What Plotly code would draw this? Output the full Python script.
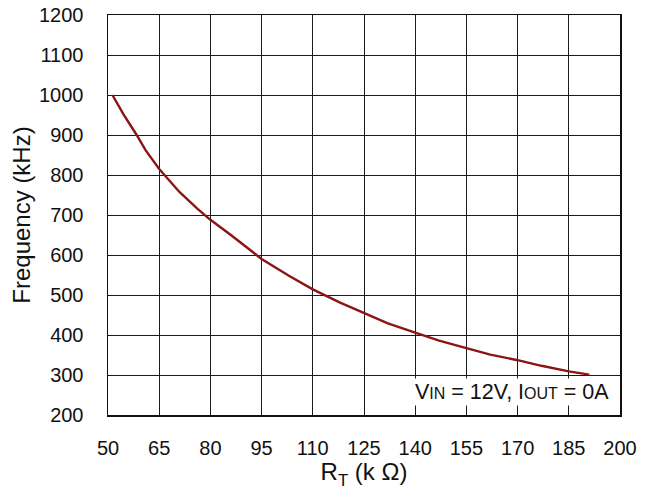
import plotly.graph_objects as go

rt_kohm = [51.3, 54.5, 58.4, 61, 65, 68, 71, 76, 80, 86, 92, 95, 103, 110, 118, 125, 132, 140, 147, 155, 162, 170, 177, 185, 191]
freq_khz = [1000, 952, 900, 862, 815, 785, 757, 717, 688, 650, 610, 590, 548, 514, 481, 455, 429, 406, 386, 367, 351, 337, 323, 309, 301]

x_ticks = [50, 65, 80, 95, 110, 125, 140, 155, 170, 185, 200]
y_ticks = [200, 300, 400, 500, 600, 700, 800, 900, 1000, 1100, 1200]

font_family = "Liberation Sans, Arial, sans-serif"

fig = go.Figure()
fig.add_trace(go.Scatter(
    x=rt_kohm, y=freq_khz, mode="lines",
    line=dict(color="#8B1414", width=2.4),
    showlegend=False, hoverinfo="skip",
))

axis_common = dict(
    showgrid=True, gridcolor="#1a1a1a", gridwidth=1,
    showline=True, linecolor="#111111", linewidth=1.5, mirror=True,
    zeroline=False, ticks="", automargin=False, ticklabeloverflow="allow",
    tickfont=dict(family=font_family, size=20, color="#111111"),
)

fig.update_xaxes(
    range=[50, 200], tickvals=x_ticks, ticktext=[str(v) for v in x_ticks],
    title=dict(text="R<sub>T</sub> (k Ω)", font=dict(family=font_family, size=24, color="#111111"), standoff=3),
    ticklabelstandoff=14,
    **axis_common,
)
fig.update_yaxes(
    range=[200, 1200], tickvals=y_ticks, ticktext=[str(v) for v in y_ticks],
    title=dict(text="Frequency (kHz)", font=dict(family=font_family, size=24, color="#111111"), standoff=1),
    ticklabelstandoff=19,
    **axis_common,
)

fig.add_annotation(
    x=197.3, y=257, xref="x", yref="y", xanchor="right", yanchor="middle",
    text="V<span style='font-size:16px'>IN</span> = 12V, I<span style='font-size:16px'>OUT</span> = 0A",
    showarrow=False, bgcolor="white", borderpad=1,
    font=dict(family=font_family, size=21.5, color="#111111"),
)

fig.update_layout(
    width=656, height=494,
    margin=dict(l=108, r=36, t=15, b=79),
    paper_bgcolor="white", plot_bgcolor="white",
)

fig.write_html(
    "out.html",
    config={"displayModeBar": False, "staticPlot": True},
    post_script="document.body.style.margin='0';document.body.style.overflow='hidden';",
)
